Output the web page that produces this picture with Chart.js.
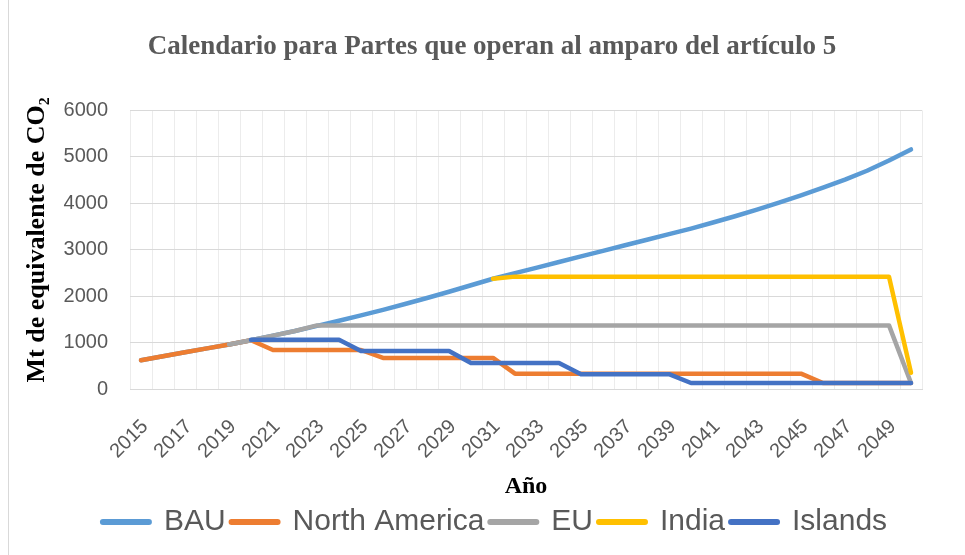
<!DOCTYPE html>
<html>
<head>
<meta charset="utf-8">
<script src="https://cdn.jsdelivr.net/npm/chart.js@4"></script>
<style>
  html, body { margin: 0; padding: 0; background: #fff; }
  #wrap { position: relative; width: 965px; height: 555px; }
  #wrap:before { content: ''; position: absolute; left: 8px; top: 0; bottom: 0; border-left: 1px solid #d9d9d9; }
</style>
</head>
<body>
<div id="wrap"><canvas id="chart" width="965" height="555"></canvas></div>
<script>
const years = [2015, 2016, 2017, 2018, 2019, 2020, 2021, 2022, 2023, 2024,
  2025, 2026, 2027, 2028, 2029, 2030, 2031, 2032, 2033, 2034,
  2035, 2036, 2037, 2038, 2039, 2040, 2041, 2042, 2043, 2044,
  2045, 2046, 2047, 2048, 2049, 2050];

const bau = [620, 705, 790, 875, 960, 1050, 1150, 1250, 1360, 1470,
  1585, 1705, 1830, 1960, 2095, 2235, 2375, 2495, 2615, 2735,
  2855, 2975, 3095, 3215, 3335, 3455, 3585, 3720, 3865, 4015,
  4170, 4335, 4510, 4700, 4920, 5160];

const northAmerica = [620, 705, 790, 875, 960, 1050, 840, 840, 840, 840,
  840, 670, 670, 670, 670, 670, 670, 330, 330, 330,
  330, 330, 330, 330, 330, 330, 330, 330, 330, 330,
  330, 130, 130, 130, 130, 130];

const eu = [null, null, null, null, 960, 1050, 1150, 1250, 1370, 1370,
  1370, 1370, 1370, 1370, 1370, 1370, 1370, 1370, 1370, 1370,
  1370, 1370, 1370, 1370, 1370, 1370, 1370, 1370, 1370, 1370,
  1370, 1370, 1370, 1370, 1370, 130];

const india = [null, null, null, null, null, null, null, null, null, null,
  null, null, null, null, null, null, 2375, 2420, 2420, 2420,
  2420, 2420, 2420, 2420, 2420, 2420, 2420, 2420, 2420, 2420,
  2420, 2420, 2420, 2420, 2420, 350];

const islands = [null, null, null, null, null, 1060, 1060, 1060, 1060, 1060,
  820, 820, 820, 820, 820, 560, 560, 560, 560, 560,
  320, 320, 320, 320, 320, 130, 130, 130, 130, 130,
  130, 130, 130, 130, 130, 130];

const yTicks = [0, 1000, 2000, 3000, 4000, 5000, 6000];

const seriesNames = ['BAU', 'North America', 'EU', 'India', 'Islands'];
const seriesColors = ['#5b9bd5', '#ed7d31', '#a5a5a5', '#ffc000', '#4472c4'];
const seriesData = [bau, northAmerica, eu, india, islands];

const gray = '#595959';

// title and legend sit a bit right of the canvas middle in the original
const shiftBoxes = {
  id: 'shiftBoxes',
  afterLayout(chart) {
    chart.legend.left += 34;
    chart.legend.right += 34;
    chart.titleBlock.left += 31;
    chart.titleBlock.right += 31;
  }
};

const config = {
  type: 'line',
  data: {
    labels: years.map(String),
    datasets: seriesNames.map((name, i) => ({
      label: name,
      data: seriesData[i],
      borderColor: seriesColors[i],
      backgroundColor: seriesColors[i],
      borderWidth: 4.5,
      borderCapStyle: 'round',
      borderJoinStyle: 'round',
      pointRadius: 0,
      pointHoverRadius: 0,
      tension: 0,
      fill: false,
      // later series sit on top, like the original
      order: seriesNames.length - i
    }))
  },
  options: {
    responsive: false,
    animation: false,
    layout: { padding: { left: 0, right: 43, top: 0, bottom: 8 } },
    scales: {
      x: {
        offset: true,
        grid: { offset: true, color: '#ececec', drawTicks: false },
        border: { color: '#d9d9d9' },
        ticks: {
          autoSkip: false,
          maxRotation: 45,
          minRotation: 45,
          padding: 26,
          labelOffset: 4,
          color: gray,
          font: { family: 'Liberation Sans', size: 20 },
          callback: (v, i) => (i % 2 === 0 ? years[i] : '')
        },
        title: {
          display: true,
          text: 'Año',
          color: '#000',
          font: { family: 'Liberation Serif', size: 24, weight: 'bold' },
          padding: { top: 0, bottom: 0 }
        },
        afterFit: (scale) => { scale.height = 112; }
      },
      y: {
        min: 0,
        max: 6000,
        afterBuildTicks: (scale) => { scale.ticks = yTicks.map(v => ({ value: v })); },
        grid: { color: '#d9d9d9', drawTicks: false },
        border: { display: false },
        ticks: {
          padding: 22,
          color: gray,
          font: { family: 'Liberation Sans', size: 20 },
          callback: (v) => String(v)
        },
        title: {
          display: true,
          text: '\u00a0\u00a0\u00a0Mt de equivalente de CO₂',
          color: '#000',
          font: { family: 'Liberation Serif', size: 26, weight: 'bold' },
          padding: { top: 22, bottom: 0 }
        },
        afterFit: (scale) => { scale.width = 130; }
      }
    },
    plugins: {
      title: {
        display: true,
        text: 'Calendario para Partes que operan al amparo del artículo 5',
        color: gray,
        font: { family: 'Liberation Serif', size: 27, weight: 'bold' },
        padding: { top: 31, bottom: 47 }
      },
      legend: {
        position: 'bottom',
        labels: {
          usePointStyle: true,
          pointStyle: 'line',
          pointStyleWidth: 46,
          padding: 6,
          color: gray,
          font: { family: 'Liberation Sans', size: 30 },
          generateLabels: (chart) => {
            const items = Chart.defaults.plugins.legend.labels.generateLabels(chart);
            items.forEach(item => { item.lineWidth = 6; item.lineCap = 'round'; });
            return items;
          },
          sort: (a, b) => a.datasetIndex - b.datasetIndex
        }
      },
      tooltip: { enabled: false }
    }
  },
  plugins: [shiftBoxes]
};

const myChart = new Chart(document.querySelector('#chart'), config);
</script>
</body>
</html>
